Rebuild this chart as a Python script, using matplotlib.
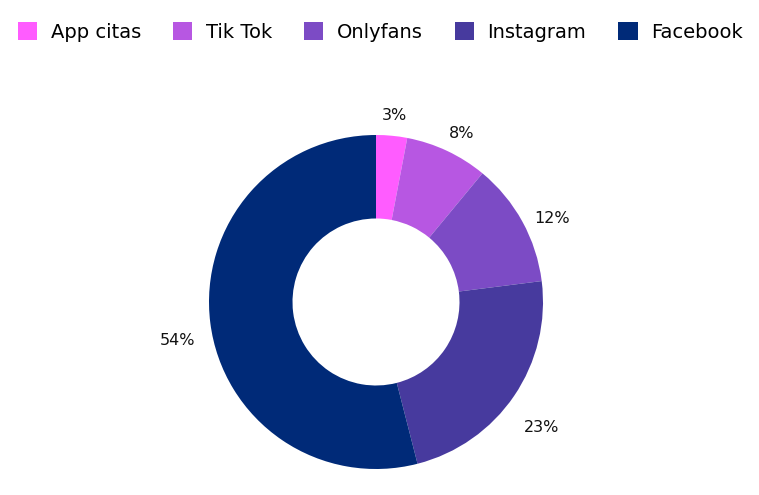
import matplotlib
matplotlib.use("Agg")
import matplotlib.pyplot as plt
from matplotlib.patches import Patch
from matplotlib.transforms import ScaledTranslation

categories = ["App citas", "Tik Tok", "Onlyfans", "Instagram", "Facebook"]
values = [3, 8, 12, 23, 54]
colors = ["#FF5CFF", "#B757E2", "#7C4BC5", "#473A9E", "#002A78"]

plt.rcParams['font.family'] = ['DejaVu Sans']
fig = plt.figure(figsize=(7.59, 4.95), dpi=100)
ax = fig.add_axes([(376 - 167) / 759, (495 - 302 - 167) / 495, 334 / 759, 334 / 495])

wedges, texts, autotexts = ax.pie(
    values, colors=colors, startangle=90, counterclock=False,
    radius=1.0, wedgeprops=dict(width=0.5, edgecolor="none"),
    autopct=lambda p: f"{p:.0f}%", pctdistance=1.2,
    textprops=dict(fontsize=11.5, color="#111111"))
ax.set_xlim(-1, 1)
ax.set_ylim(-1, 1)
shift = ScaledTranslation(0, -13 / 100, fig.dpi_scale_trans)
for t in autotexts:
    t.set_transform(ax.transData + shift)

handles = [Patch(facecolor=c, edgecolor="none") for c in colors]
fig.legend(handles, categories, loc="center left", bbox_to_anchor=(18 / 759, 0.935),
           ncol=5, frameon=False, fontsize=14, handlelength=1.0, handleheight=1.0,
           handletextpad=0.68, columnspacing=1.65, borderaxespad=0, borderpad=0)

fig.savefig("out.png", dpi=100)
